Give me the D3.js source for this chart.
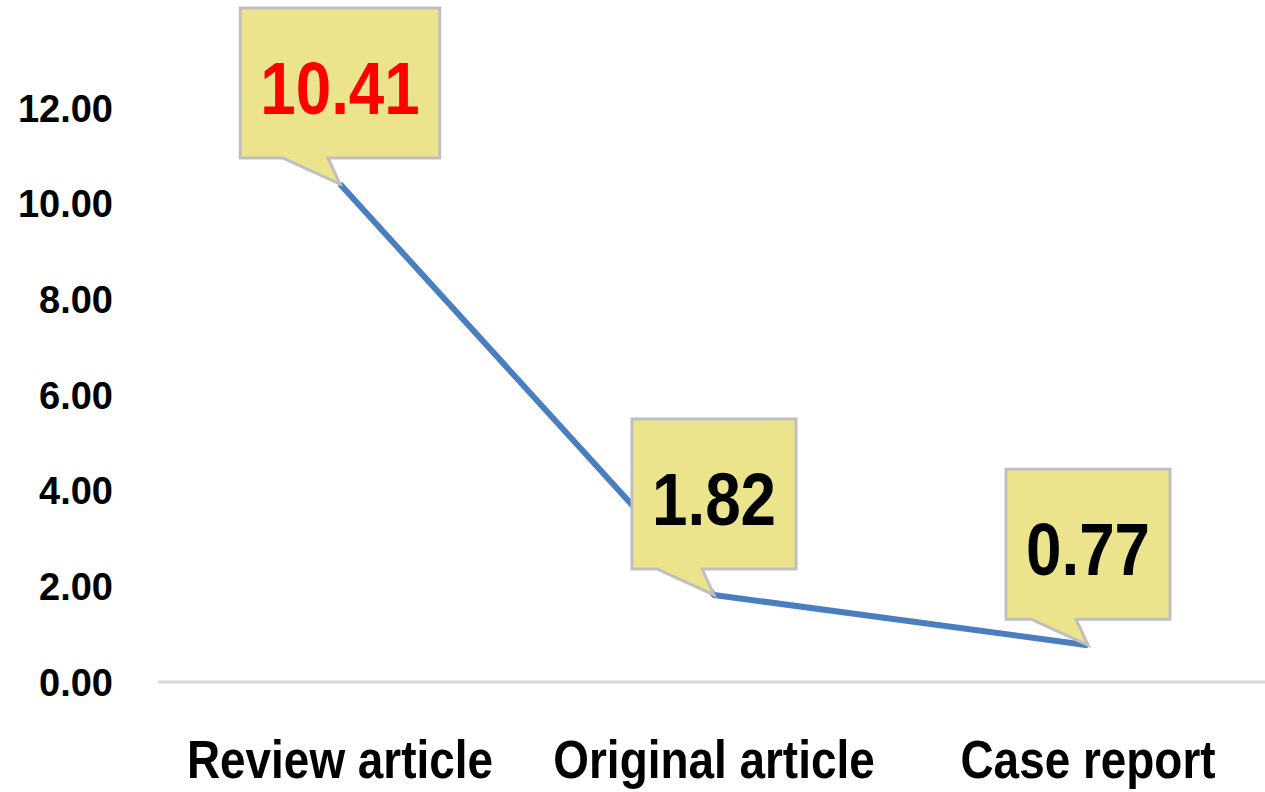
<!DOCTYPE html>
<html>
<head>
<meta charset="utf-8">
<script src="https://cdn.jsdelivr.net/npm/d3@7"></script>
<style>
  body { margin: 0; background: #fff; }
  svg { display: block; }
</style>
</head>
<body>
<div id="chart"></div>
<script>
// data
var categories = ["Review article", "Original article", "Case report"];
var values = [10.41, 1.82, 0.77];
var labels = ["10.41", "1.82", "0.77"];
var labelColors = ["#ff0000", "#000000", "#000000"];
var yTicks = [0, 2, 4, 6, 8, 10, 12];

var width = 1265, height = 792;
var narrow = 0.85; // no narrow font installed, squeeze horizontally

var svg = d3.select("#chart").append("svg")
  .attr("width", width)
  .attr("height", height);

var x = d3.scalePoint()
  .domain(categories)
  .range([153, 1275])
  .padding(0.5);

var y = d3.scaleLinear()
  .domain([0, 12])
  .range([682, 108]);

// y tick labels (no axis line, no grid)
svg.append("g")
  .selectAll("text")
  .data(yTicks)
  .enter()
  .append("text")
    .attr("x", 113)
    .attr("y", function(d) { return y(d); })
    .attr("dy", "0.36em")
    .attr("text-anchor", "end")
    .style("font-family", "'Liberation Sans', Arial, sans-serif")
    .style("font-weight", "bold")
    .style("font-size", "38px")
    .attr("fill", "#000")
    .text(function(d) { return d.toFixed(2); });

// x axis baseline
svg.append("line")
  .attr("x1", 158).attr("x2", 1265)
  .attr("y1", y(0)).attr("y2", y(0))
  .attr("stroke", "#d9d9d9")
  .attr("stroke-width", 3);

// category labels
svg.append("g")
  .selectAll("text")
  .data(categories)
  .enter()
  .append("text")
    .attr("transform", function(d) { return "translate(" + x(d) + ",778) scale(" + narrow + ",1)"; })
    .attr("text-anchor", "middle")
    .style("font-family", "'Liberation Sans', Arial, sans-serif")
    .style("font-weight", "bold")
    .style("font-size", "54px")
    .attr("fill", "#000")
    .text(function(d) { return d; });

// the line
var pts = categories.map(function(c, i) { return [x(c), y(values[i])]; });
svg.append("path")
  .datum(pts)
  .attr("d", d3.line())
  .attr("fill", "none")
  .attr("stroke", "#4a7ebf")
  .attr("stroke-width", 6)
  .attr("stroke-linejoin", "round");

// callouts
var boxH = 150, gap = 26;
categories.forEach(function(c, i) {
  var px = x(c), py = y(values[i]);
  var top = py - gap - boxH;
  var g = svg.append("g");
  var shape = g.append("path");
  var t = g.append("text")
    .attr("transform", "translate(" + px + "," + (top + boxH / 2 + 31) + ") scale(" + narrow + ",1)")
    .attr("text-anchor", "middle")
    .style("font-family", "'Liberation Sans', Arial, sans-serif")
    .style("font-weight", "bold")
    .style("font-size", "75px")
    .attr("fill", labelColors[i])
    .text(labels[i]);
  var w = t.node().getBBox().width * narrow + 40;
  var l = px - w / 2, r = px + w / 2, b = top + boxH;
  var p = d3.path();
  p.moveTo(l, top);
  p.lineTo(r, top);
  p.lineTo(r, b);
  p.lineTo(px - 12, b);
  p.lineTo(px, py);
  p.lineTo(px - 57, b);
  p.lineTo(l, b);
  p.closePath();
  shape.attr("d", p.toString())
    .attr("fill", "#ece48c")
    .attr("stroke", "#bfbfbf")
    .attr("stroke-width", 3)
    .attr("stroke-linejoin", "miter");
});
</script>
</body>
</html>
